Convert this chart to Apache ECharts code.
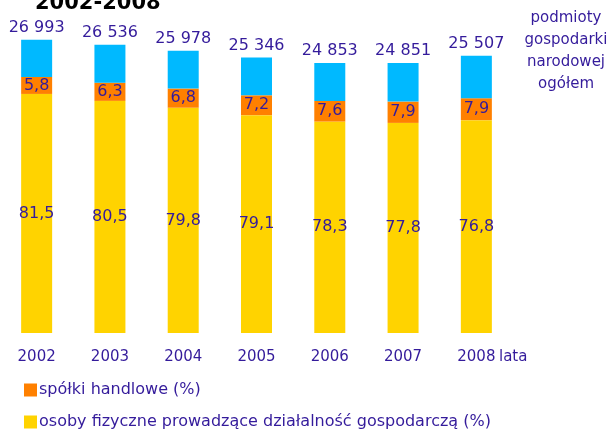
<!DOCTYPE html>
<html>
<head>
<meta charset="utf-8">
<script src="https://cdn.jsdelivr.net/npm/echarts@6/dist/echarts.min.js"></script>
<style>
  html,body{margin:0;padding:0;background:#fff;}
  #main{width:611px;height:430px;}
</style>
</head>
<body>
<div id="main"></div>
<script>
// dane z wykresu
var years = ['2002', '2003', '2004', '2005', '2006', '2007', '2008']
var totals = [26993, 26536, 25978, 25346, 24853, 24851, 25507]   // podmioty ogółem
var spolki = [5.8, 6.3, 6.8, 7.2, 7.6, 7.9, 7.9]                 // spółki handlowe (%)
var osoby = [81.5, 80.5, 79.8, 79.1, 78.3, 77.8, 76.8]           // osoby fizyczne (%)

var textColor = '#341b9b'
var font = 'DejaVu Sans'

// wysokość segmentów = ogółem * udział
var osobyVal = totals.map(function (t, i) { return t * osoby[i] / 100 })
var spolkiVal = totals.map(function (t, i) { return t * spolki[i] / 100 })
var resztaVal = totals.map(function (t, i) { return t - osobyVal[i] - spolkiVal[i] })

function fmtPct(v) {
  return v.toFixed(1).replace('.', ',')
}
function fmtTotal(v) {
  return String(v).replace(/\B(?=(\d{3})+(?!\d))/g, ' ')
}

// jedna legenda na pozycję, żeby się nie zawijała
function legendItem(name, top) {
  return {
    orient: 'vertical',
    left: 24,
    top: top,
    padding: 0,
    itemWidth: 13,
    itemHeight: 13,
    icon: 'rect',
    data: [name],
    textStyle: { color: textColor, fontSize: 16, fontFamily: font, padding: [0, 0, 0, -3] }
  }
}

var chart = echarts.init(document.getElementById('main'), null, { renderer: 'canvas' })

var option = {
  animation: false,
  grid: { left: 0, right: 98, top: 7, bottom: 97 },
  xAxis: {
    type: 'category',
    data: years,
    axisLine: { show: false },
    axisTick: { show: false },
    axisLabel: { color: textColor, fontSize: 15, fontFamily: font, margin: 17 }
  },
  yAxis: {
    type: 'value',
    min: 0,
    max: 30000,
    show: false
  },
  legend: [
    legendItem('spółki handlowe (%)', 382),
    legendItem('osoby fizyczne prowadzące działalność gospodarczą (%)', 414)
  ],
  graphic: [
    {
      type: 'text', left: 35, top: -7,
      style: { text: '2002-2008', fontSize: 21, fontWeight: 'bold', fontFamily: font, fill: '#000' }
    },
    {
      type: 'text', x: 566, y: 7,
      style: {
        text: 'podmioty\ngospodarki\nnarodowej\nogółem',
        align: 'center', verticalAlign: 'top',
        fontSize: 15, lineHeight: 22, fontFamily: font, fill: textColor
      }
    },
    {
      type: 'text', x: 499, y: 357,
      style: { text: 'lata', verticalAlign: 'middle', fontSize: 15, fontFamily: font, fill: textColor }
    }
  ],
  series: [
    {
      name: 'osoby fizyczne prowadzące działalność gospodarczą (%)',
      type: 'bar',
      stack: 'a',
      barWidth: 31,
      data: osobyVal,
      itemStyle: { color: '#ffd300' },
      label: {
        show: true, position: 'inside', color: textColor, fontSize: 16, fontFamily: font,
        formatter: function (p) { return fmtPct(osoby[p.dataIndex]) }
      }
    },
    {
      name: 'spółki handlowe (%)',
      type: 'bar',
      stack: 'a',
      data: spolkiVal,
      itemStyle: { color: '#ff8000' },
      label: {
        show: true, position: 'inside', color: textColor, fontSize: 16, fontFamily: font,
        formatter: function (p) { return fmtPct(spolki[p.dataIndex]) }
      }
    },
    {
      name: 'podmioty gospodarki narodowej ogółem',
      type: 'bar',
      stack: 'a',
      data: resztaVal,
      itemStyle: { color: '#00b9ff' },
      label: {
        show: true, position: 'top', distance: 4, color: textColor, fontSize: 16, fontFamily: font,
        formatter: function (p) { return fmtTotal(totals[p.dataIndex]) }
      }
    }
  ]
}

chart.setOption(option)
</script>
</body>
</html>
